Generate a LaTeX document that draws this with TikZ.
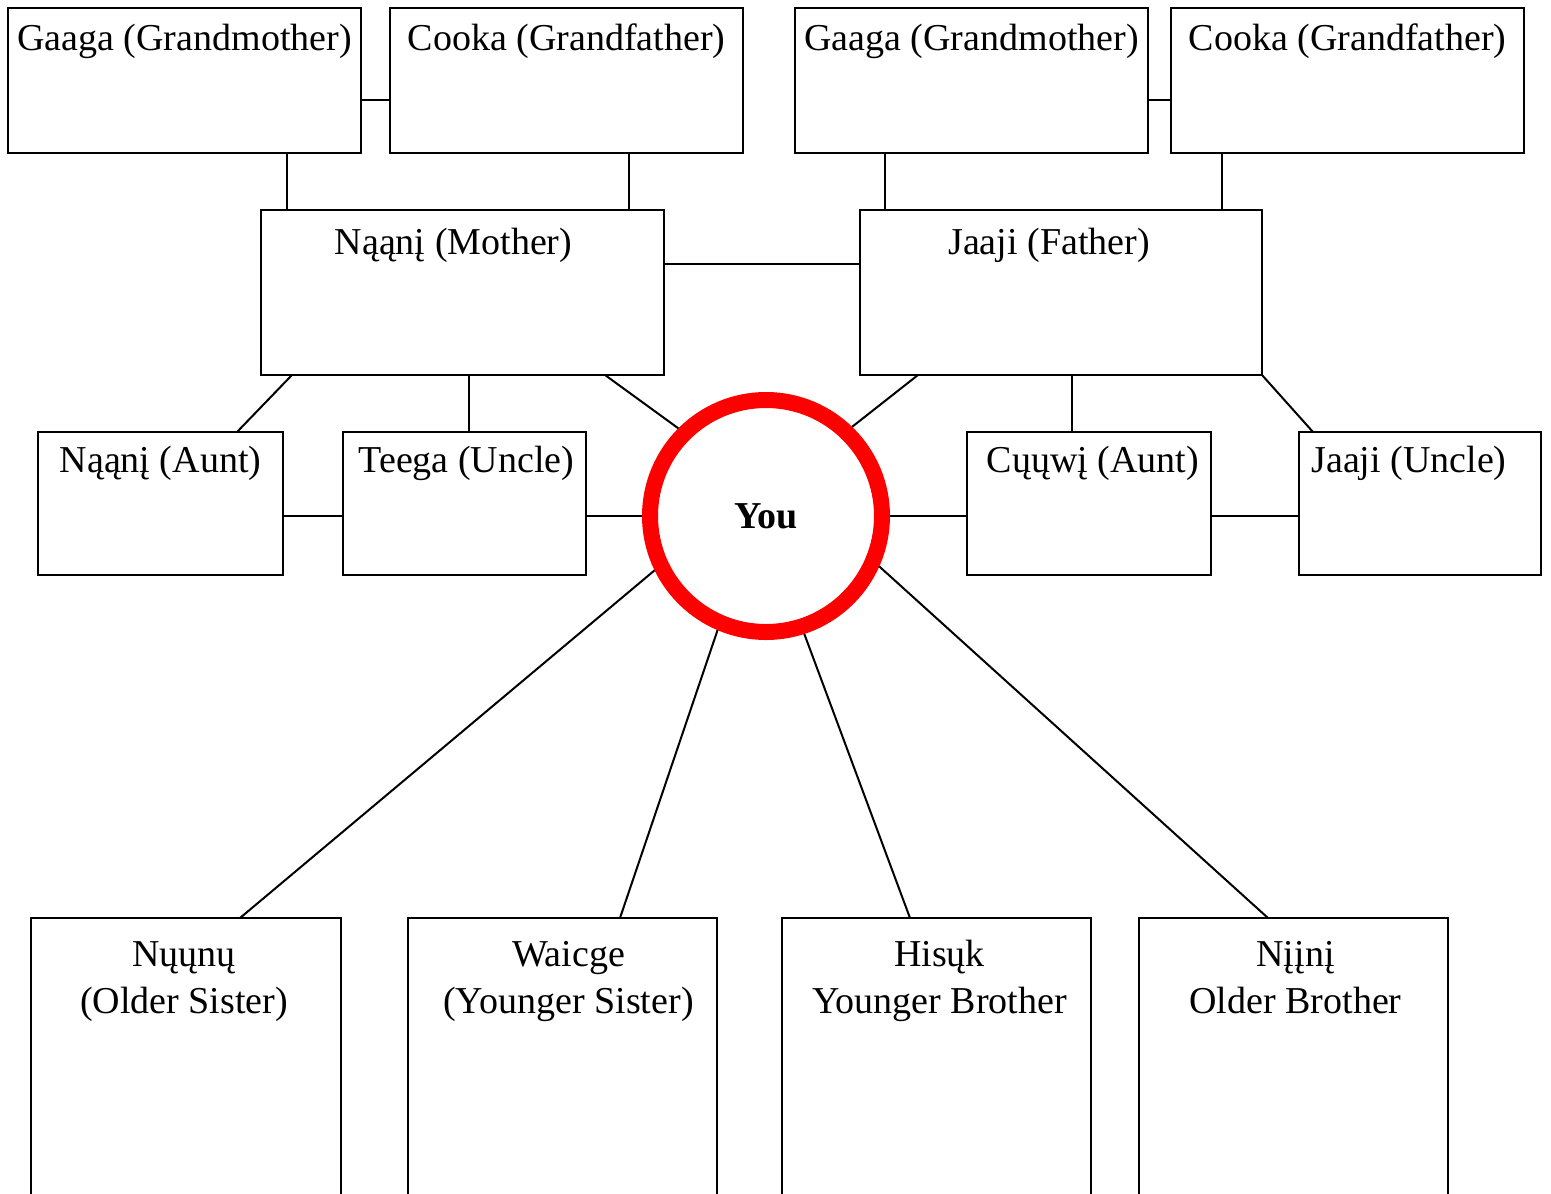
\documentclass[tikz,border=0pt]{standalone}
\usepackage{fontspec}
\setmainfont{Liberation Serif}
\begin{document}
\begin{tikzpicture}[x=1pt,y=-1pt,
  box/.style={draw, line width=2pt, inner sep=0pt, outer sep=0pt},
  lbl/.style={anchor=base, inner sep=0pt, align=center, font=\fontsize{38}{47}\selectfont},
  conn/.style={line width=2pt},
  me/.style={circle, draw=red, line width=16pt, minimum size=232pt, inner sep=0pt, font=\fontsize{38}{44}\selectfont\bfseries}]
\useasboundingbox (0,0) rectangle (1551,1194);
\clip (0,0) rectangle (1551,1194);
% grandparents
\node[box, minimum width=353pt, minimum height=145pt] (gm1) at (184.5,80.5) {};
\node[box, minimum width=353pt, minimum height=145pt] (gf1) at (566.5,80.5) {};
\node[box, minimum width=353pt, minimum height=145pt] (gm2) at (971.5,80.5) {};
\node[box, minimum width=353pt, minimum height=145pt] (gf2) at (1347.5,80.5) {};
\node[lbl] (gm1t) at ([yshift=-42pt]gm1.north) {Gaaga (Grandmother)};
\node[lbl] (gf1t) at ([yshift=-42pt]gf1.north) {Cooka (Grandfather)};
\node[lbl] (gm2t) at ([yshift=-42pt]gm2.north) {Gaaga (Grandmother)};
\node[lbl] (gf2t) at ([yshift=-42pt]gf2.north) {Cooka (Grandfather)};
% parents
\node[box, minimum width=403pt, minimum height=165pt] (mom) at (462.5,292.5) {};
\node[box, minimum width=402pt, minimum height=165pt] (dad) at (1061,292.5) {};
\node[lbl] (momt) at ([xshift=-9pt,yshift=-44pt]mom.north) {Nąąnį (Mother)};
\node[lbl] (dadt) at ([xshift=-12pt,yshift=-44pt]dad.north) {Jaaji (Father)};
% aunts and uncles
\node[box, minimum width=245pt, minimum height=143pt] (aunt1) at (160.5,503.5) {};
\node[box, minimum width=243pt, minimum height=143pt] (uncle1) at (464.5,503.5) {};
\node[box, minimum width=244pt, minimum height=143pt] (aunt2) at (1089,503.5) {};
\node[box, minimum width=242pt, minimum height=143pt] (uncle2) at (1420,503.5) {};
\node[lbl] (aunt1t) at ([yshift=-40pt]aunt1.north) {Nąąnį (Aunt)};
\node[lbl] (uncle1t) at ([xshift=2pt,yshift=-40pt]uncle1.north) {Teega (Uncle)};
\node[lbl] (aunt2t) at ([xshift=4pt,yshift=-40pt]aunt2.north) {Cųųwį (Aunt)};
\node[lbl] (uncle2t) at ([xshift=-11pt,yshift=-40pt]uncle2.north) {Jaaji (Uncle)};
% you
\node[me] (you) at (766,516) {You};
% siblings
\node[box, minimum width=310pt, minimum height=300pt] (sib1) at (186,1068) {};
\node[box, minimum width=309pt, minimum height=300pt] (sib2) at (562.5,1068) {};
\node[box, minimum width=309pt, minimum height=300pt] (sib3) at (936.5,1068) {};
\node[box, minimum width=309pt, minimum height=300pt] (sib4) at (1293.5,1068) {};
\node[lbl] (sib1t) at ([xshift=-2pt,yshift=-95pt]sib1.north) {Nųųnų\\(Older Sister)};
\node[lbl] (sib2t) at ([xshift=6pt,yshift=-95pt]sib2.north) {Waicge\\(Younger Sister)};
\node[lbl] (sib3t) at ([xshift=3pt,yshift=-95pt]sib3.north) {Hisųk\\Younger Brother};
\node[lbl] (sib4t) at ([xshift=2pt,yshift=-95pt]sib4.north) {Nįįnį\\Older Brother};
% connectors: grandparents
\draw[conn] ([yshift=-19.5pt]gm1.east) -- ([yshift=-19.5pt]gf1.west);
\draw[conn] ([yshift=-19.5pt]gm2.east) -- ([yshift=-19.5pt]gf2.west);
\draw[conn] ([xshift=102.5pt]gm1.south) coordinate (p1) -- (p1 |- mom.north);
\draw[conn] ([xshift=62.5pt]gf1.south) coordinate (p2) -- (p2 |- mom.north);
\draw[conn] ([xshift=-86.5pt]gm2.south) coordinate (p3) -- (p3 |- dad.north);
\draw[conn] ([xshift=-125.5pt]gf2.south) coordinate (p4) -- (p4 |- dad.north);
% parents
\draw[conn] ([yshift=28.5pt]mom.east) -- ([yshift=28.5pt]dad.west);
\draw[conn] ([xshift=-170.5pt]mom.south) -- ([xshift=76.5pt]aunt1.north);
\draw[conn] ([xshift=6.5pt]mom.south) coordinate (p5) -- (p5 |- uncle1.north);
\draw[conn] ([xshift=142.5pt]mom.south) -- (you.135.7);
\draw[conn] ([xshift=-143pt]dad.south) -- (you.46.7);
\draw[conn] ([xshift=11pt]dad.south) coordinate (p6) -- (p6 |- aunt2.north);
\draw[conn] (dad.south east) -- ([xshift=-107pt]uncle2.north);
% same generation
\draw[conn] ([yshift=-12.5pt]aunt1.east) -- ([yshift=-12.5pt]uncle1.west);
\draw[conn] ([yshift=-12.5pt]aunt2.east) -- ([yshift=-12.5pt]uncle2.west);
\draw[conn] (uncle1.east |- you.west) -- (you.west);
\draw[conn] (you.east) -- (you.east -| aunt2.west);
% siblings
\draw[conn] (you.206.2) -- ([xshift=54pt]sib1.north);
\draw[conn] (you.247.9) -- ([xshift=57.5pt]sib2.north);
\draw[conn] (you.288.2) -- ([xshift=-26.5pt]sib3.north);
\draw[conn] (you.336.2) -- ([xshift=-25.5pt]sib4.north);
\end{tikzpicture}
\end{document}
